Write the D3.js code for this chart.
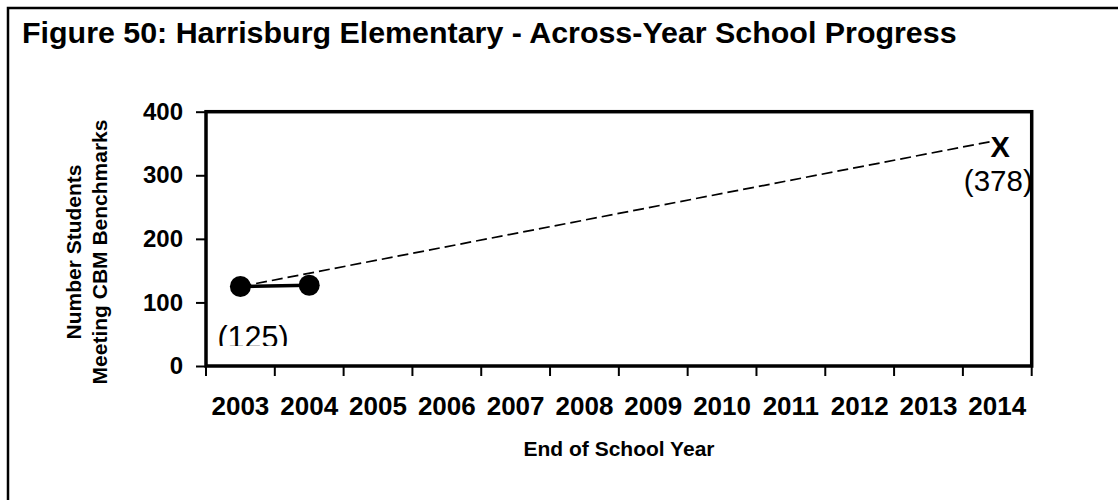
<!DOCTYPE html>
<html>
<head>
<meta charset="utf-8">
<script src="https://cdn.jsdelivr.net/npm/d3@7"></script>
<style>
  html, body { margin: 0; padding: 0; background: #fff; }
  svg { display: block; font-family: "Liberation Sans", Arial, sans-serif; }
</style>
</head>
<body>
<svg id="chart" width="1118" height="500"></svg>
<script>
const years = ["2003","2004","2005","2006","2007","2008","2009","2010","2011","2012","2013","2014"];
const actualYears = ["2003","2004"];
const actualValues = [125, 127];
const aimYears = ["2003","2014"];
const aimValues = [125, 355];
const yTicks = [0, 100, 200, 300, 400];
const startLabel = "(125)";
const goalMarker = "X";
const goalLabel = "(378)";
const title = "Figure 50: Harrisburg Elementary - Across-Year School Progress";
const yTitleLines = ["Number Students", "Meeting CBM Benchmarks"];
const xTitle = "End of School Year";

const svg = d3.select("#chart");
const W = 1118, H = 500;
const plot = { left: 206, right: 1031.7, top: 111.7, bottom: 366 };

const x = d3.scaleBand().domain(years).range([plot.left, plot.right]).padding(0);
const y = d3.scaleLinear().domain([0, 400]).range([plot.bottom, plot.top]);
const cx = d => x(d) + x.bandwidth() / 2;

// outer frame
svg.append("rect").attr("x", 8).attr("y", 8).attr("width", W + 10).attr("height", H + 10)
  .attr("fill", "none").attr("stroke", "#000").attr("stroke-width", 2.5);

// title
svg.append("text").attr("x", 22).attr("y", 43).attr("font-size", 30.4).attr("font-weight", "bold")
  .text(title);

// y axis ticks and labels
const yAxis = d3.axisLeft(y).tickValues(yTicks).tickSize(10).tickPadding(13).tickFormat(d3.format("d"));
const gy = svg.append("g").attr("transform", `translate(${plot.left},0)`).call(yAxis);
gy.select(".domain").remove();
gy.selectAll(".tick line").attr("stroke", "#000").attr("stroke-width", 2);
gy.selectAll(".tick text").attr("font-size", 24).attr("font-weight", "bold")
  .attr("font-family", '"Liberation Sans", Arial, sans-serif').attr("fill", "#000");

// x axis ticks at band boundaries
const boundaries = years.map(d => x(d)).concat([plot.right]);
svg.append("g").selectAll("line").data(boundaries).join("line")
  .attr("x1", d => d).attr("x2", d => d).attr("y1", plot.bottom).attr("y2", plot.bottom + 10)
  .attr("stroke", "#000").attr("stroke-width", 2);
svg.append("g").selectAll("text").data(years).join("text")
  .attr("x", d => cx(d)).attr("y", 415).attr("text-anchor", "middle")
  .attr("font-size", 26).attr("font-weight", "bold").text(d => d);

// axis titles
svg.append("text").attr("x", 619).attr("y", 456).attr("text-anchor", "middle")
  .attr("font-size", 21).attr("font-weight", "bold").text(xTitle);
const yt = svg.append("g");
[81, 107].forEach((bx, i) => {
  yt.append("text").attr("transform", `translate(${bx},252) rotate(-90)`)
    .attr("text-anchor", "middle").attr("font-size", 21).attr("font-weight", "bold")
    .text(yTitleLines[i]);
});

// aim line (dashed)
const line = d3.line().x(d => cx(d[0])).y(d => y(d[1]));
svg.append("path").datum(aimYears.map((d, i) => [d, aimValues[i]]))
  .attr("d", line).attr("fill", "none").attr("stroke", "#000")
  .attr("stroke-width", 1.7).attr("stroke-dasharray", "11,5");

// actual line
const actual = actualYears.map((d, i) => [d, actualValues[i]]);
svg.append("path").datum(actual).attr("d", line).attr("fill", "none")
  .attr("stroke", "#000").attr("stroke-width", 3.5);
svg.append("g").selectAll("circle").data(actual).join("circle")
  .attr("cx", d => cx(d[0])).attr("cy", d => y(d[1])).attr("r", 10.5).attr("fill", "#000");

// start label (clipped at bottom like the reference)
const clipY = y(actualValues[0]) + 59.5;
svg.append("clipPath").attr("id", "lblclip").append("rect")
  .attr("x", 0).attr("y", 0).attr("width", W).attr("height", clipY);
svg.append("text").attr("clip-path", "url(#lblclip)")
  .attr("x", cx(actualYears[0]) - 23).attr("y", y(actualValues[0]) + 61)
  .attr("font-size", 30.5).text(startLabel);

// goal marker and label
const gx = cx(aimYears[1]), gyv = y(aimValues[1]);
svg.append("text").attr("x", gx + 3).attr("y", gyv + 17).attr("text-anchor", "middle")
  .attr("font-size", 29).attr("font-weight", "bold").text(goalMarker);
svg.append("text").attr("x", gx + 1).attr("y", gyv + 51).attr("text-anchor", "middle")
  .attr("font-size", 29.5).text(goalLabel);

// plot frame
svg.append("rect").attr("x", plot.left).attr("y", plot.top)
  .attr("width", plot.right - plot.left).attr("height", plot.bottom - plot.top)
  .attr("fill", "none").attr("stroke", "#000").attr("stroke-width", 3.5);
</script>
</body>
</html>
